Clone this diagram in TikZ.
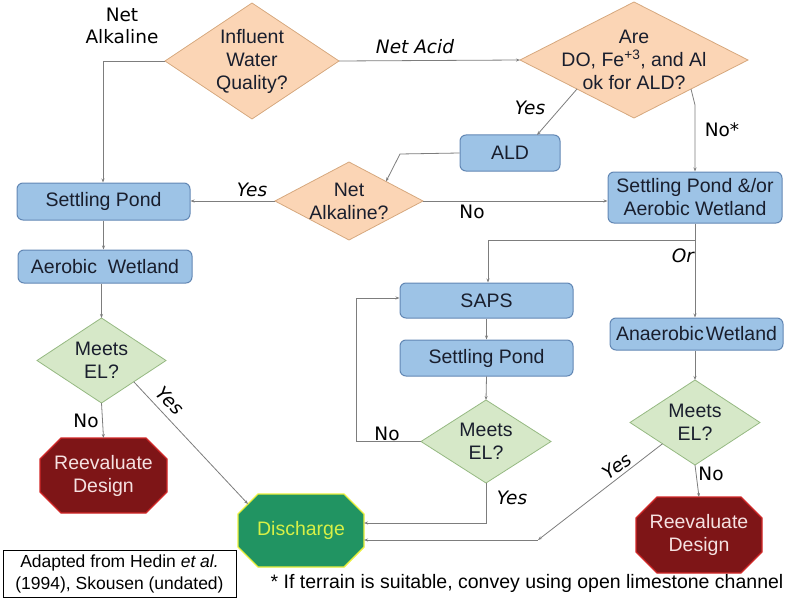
\documentclass[tikz,border=0pt]{standalone}
\usepackage{fontspec}
\setmainfont{Liberation Sans}
\newfontfamily\lblfont{DejaVu Sans}
\usetikzlibrary{arrows.meta,calc}
\definecolor{peachF}{RGB}{251,213,181}
\definecolor{peachD}{RGB}{214,168,126}
\definecolor{blueF}{RGB}{157,195,230}
\definecolor{blueD}{RGB}{98,135,180}
\definecolor{greenF}{RGB}{214,232,200}
\definecolor{greenD}{RGB}{150,185,130}
\definecolor{redF}{RGB}{126,21,23}
\definecolor{redD}{RGB}{210,40,40}
\definecolor{disF}{RGB}{33,148,98}
\definecolor{disD}{RGB}{235,240,60}
\definecolor{disT}{RGB}{215,240,70}
\definecolor{lineC}{RGB}{125,125,125}
\definecolor{txtC}{RGB}{25,30,45}
\newcommand{\mydiamond}[7]{%
  \coordinate (#1-t) at (#2,{#3-#5});
  \coordinate (#1-b) at (#2,{#3+#5});
  \coordinate (#1-l) at ({#2-#4},#3);
  \coordinate (#1-r) at ({#2+#4},#3);
  \draw[#6] (#1-t) -- (#1-r) -- (#1-b) -- (#1-l) -- cycle;
  \node[boxtext] (#1) at (#2,#3) {#7};}
\newcommand{\myoct}[8]{%
  \draw[#7] ({#2-#4+#6},{#3-#5}) -- ({#2+#4-#6},{#3-#5}) -- ({#2+#4},{#3-#5+#6})
    -- ({#2+#4},{#3+#5-#6}) -- ({#2+#4-#6},{#3+#5}) -- ({#2-#4+#6},{#3+#5})
    -- ({#2-#4},{#3+#5-#6}) -- ({#2-#4},{#3-#5+#6}) -- cycle;
  \coordinate (#1-ul) at ({#2-#4+#6/2},{#3-#5+#6/2});
  \node[boxtext,text=#8] (#1) at (#2,#3) {};
  \coordinate (#1-n) at (#2,{#3-#5});
  \coordinate (#1-e) at ({#2+#4},#3);}
\tikzset{
  boxtext/.style={align=center,font=\fontsize{19.5}{23}\selectfont,text=txtC,inner sep=1pt},
  bbox/.style={boxtext,draw=blueD,fill=blueF,rounded corners=6pt,line width=1pt},
  dpeach/.style={draw=peachD,fill=peachF,line width=0.8pt},
  dgreen/.style={draw=greenD,fill=greenF,line width=0.8pt},
  ored/.style={draw=redD,fill=redF,line width=1.2pt},
  ogreen/.style={draw=disD,fill=disF,line width=1.4pt},
  conn/.style={draw=lineC,line width=0.8pt,-{Stealth[length=4pt,width=3pt]}},
  plain/.style={draw=lineC,line width=0.8pt},
  lbl/.style={font=\lblfont\fontsize{18.5}{22}\selectfont,text=black,align=center,inner sep=0pt},
  ilbl/.style={lbl,font=\lblfont\fontsize{18.5}{22}\selectfont\itshape},
}
\begin{document}
\begin{tikzpicture}[x=1pt,y=-1pt]
\useasboundingbox (0,0) rectangle (800,599);
% diamonds
\mydiamond{inf}{252}{61}{87}{58}{dpeach}{Influent\\Water\\Quality?}
\mydiamond{are}{634}{60}{114}{58}{dpeach}{Are\\DO, Fe\textsuperscript{+3}, and Al\\ok for ALD?}
\mydiamond{na}{349}{201}{74}{39}{dpeach}{Net\\Alkaline?}
\mydiamond{mL}{101.5}{360.5}{64.5}{42.5}{dgreen}{Meets\\EL?}
\mydiamond{mM}{486}{441.5}{65}{41.5}{dgreen}{Meets\\EL?}
\mydiamond{mR}{695}{422.5}{65}{42.5}{dgreen}{Meets\\EL?}
% boxes
\node[bbox,minimum width=100pt,minimum height=36pt] (ald) at (510,153) {ALD};
\node[bbox,minimum width=174pt,minimum height=51pt] (spaw) at (695,197.5) {Settling Pond \&/or\\Aerobic Wetland};
\node[bbox,minimum width=173pt,minimum height=37pt] (spL) at (103.5,201.5) {Settling Pond};
\node[bbox,minimum width=174pt,minimum height=33pt] (awL) at (105,266.5) {Aerobic\ \ Wetland};
\node[bbox,minimum width=173pt,minimum height=35pt] (saps) at (486.5,300.5) {SAPS};
\node[bbox,minimum width=173pt,minimum height=36pt] (spM) at (486.5,358) {Settling Pond};
\node[bbox,minimum width=173pt,minimum height=32pt] (anw) at (696.5,334) {Anaerobic\hspace{0.1em}Wetland};
% octagons
\myoct{revL}{103.5}{475.5}{63.5}{37.5}{21}{ored}{white}
\node[boxtext,text={rgb,255:red,245;green,225;blue,225}] at (103.5,475.5) {Reevaluate\\Design};
\myoct{dis}{301}{530.5}{63}{36.5}{20}{ogreen}{disT}
\node[boxtext,text=disT] at (301,530.5) {Discharge};
\myoct{revR}{699}{535}{63}{38}{21}{ored}{white}
\node[boxtext,text={rgb,255:red,245;green,225;blue,225}] at (699,535) {Reevaluate\\Design};
% helper coordinates
\coordinate (c1) at (103,61);
\coordinate (c2) at (695,105);
\coordinate (c3) at (400,154);
\coordinate (c4) at (695,240);
\coordinate (c5) at (488,240);
\coordinate (c6) at (356,441.5);
\coordinate (c7) at (356,298);
\coordinate (c8) at (486,523);
\coordinate (c9) at (538,540);
% connectors
\draw[conn] (inf-l) -- (c1) -- (spL.north -| c1);
\draw[conn] (inf-r) -- (are-l);
\draw[conn] ($(are-b)!0.5!(are-l)$) -- (537,135);
\draw[conn] ($(are-b)!0.5!(are-r)$) -- (c2) -- (spaw.north -| c2);
\draw[conn] (ald.west) -- (c3) -- ($(na-t)!0.5!(na-r)$);
\draw[conn] (na-l) -- (na-l -| spL.east);
\draw[conn] (na-r) -- (na-r -| spaw.west);
\draw[conn] (spL.south) -- (spL.south |- awL.north);
\draw[conn] (awL.south -| mL-t) -- (mL-t);
\draw[conn] (mL-b) -- (revL-n);
\draw[conn] ($(mL-b)!0.5!(mL-r)$) -- (dis-ul);
\draw[plain] (spaw.south) -- (c4) -- (c5);
\draw[conn] (c5) -- (c5 |- saps.north);
\draw[conn] (c4) -- (c4 |- anw.north);
\draw[conn] (saps.south) -- (spM.north);
\draw[conn] (spM.south) -- (mM-t);
\draw[conn] (mM-l) -- (c6) -- (c7) -- (c7 -| saps.west);
\draw[conn] (mM-b) -- (c8) -- (c8 -| dis-e);
\draw[conn] (anw.south -| mR-t) -- (mR-t);
\draw[conn] (mR-b) -- (revR-n);
\draw[conn] ($(mR-b)!0.5!(mR-l)$) -- (c9);
\draw[conn] (c9) -- (c9 -| dis-e);
% labels
\node[lbl] (l1) at (122,26) {Net\\Alkaline};
\node[ilbl] (l2) at (415,47) {Net Acid};
\node[ilbl] (l3) at (530,108) {Yes};
\node[lbl] (l4) at (722,130) {No*};
\node[ilbl] (l5) at (252,190) {Yes};
\node[lbl] (l6) at (472,212) {No};
\node[ilbl] (l7) at (683,256) {Or};
\node[lbl] (l8) at (86,421) {No};
\node[ilbl,rotate=-45] (l9) at (170,401) {Yes};
\node[lbl] (l10) at (387,434) {No};
\node[ilbl] (l11) at (512,498) {Yes};
\node[ilbl,rotate=36] (l12) at (617,466) {Yes};
\node[lbl] (l13) at (711,474) {No};
% footnotes
\node[draw=black,line width=0.8pt,minimum width=233pt,minimum height=47pt,align=center,font=\fontsize{17.5}{22}\selectfont,inner sep=1pt] (src) at (119.5,573.5) {Adapted from Hedin \textit{et al.}\\(1994), Skousen (undated)};
\node[font=\fontsize{19.5}{23}\selectfont,inner sep=0pt] (fn) at (527,583) {* If terrain is suitable, convey using open limestone channel};
\end{tikzpicture}
\end{document}
